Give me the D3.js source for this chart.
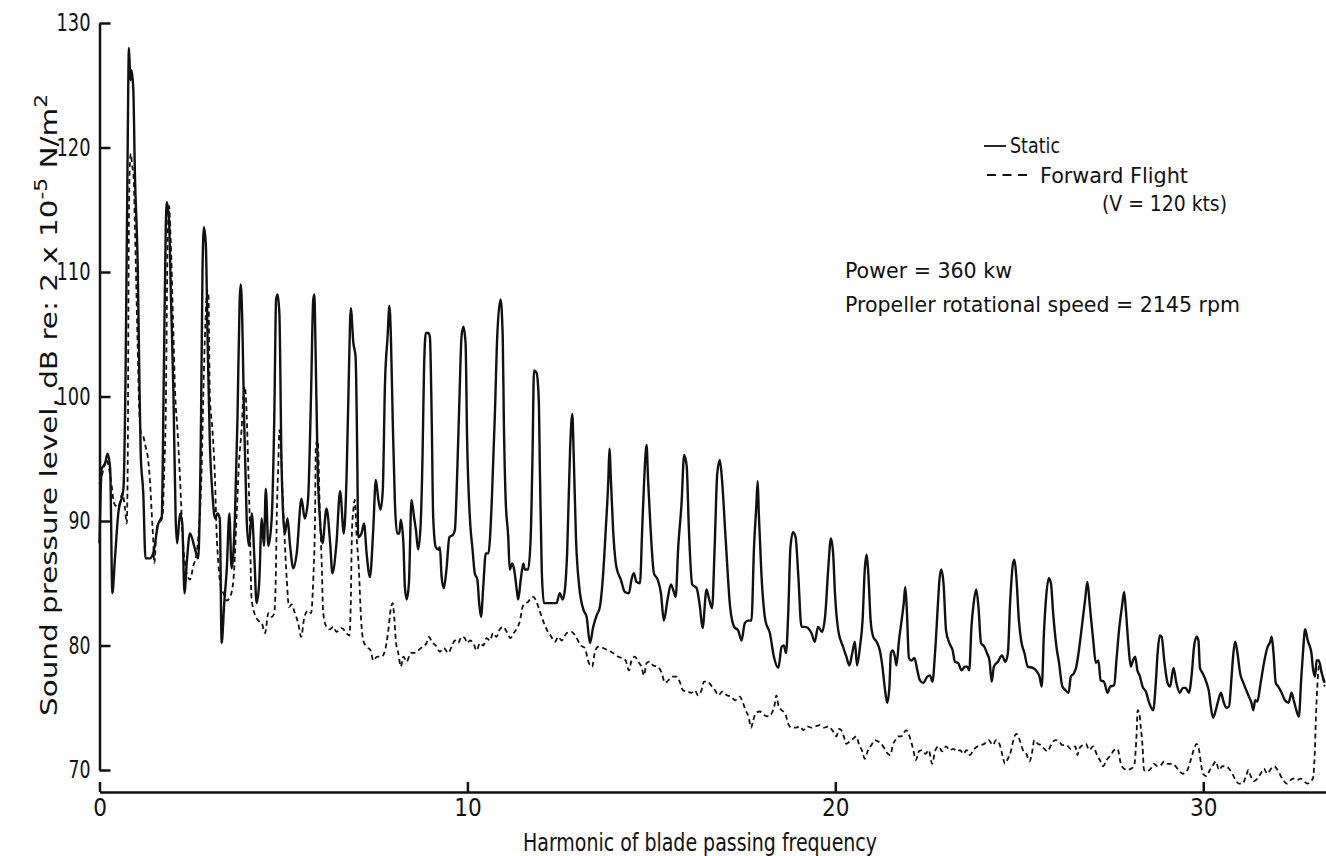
<!DOCTYPE html>
<html>
<head>
<meta charset="utf-8">
<script src="https://cdn.jsdelivr.net/npm/d3@7"></script>
<style>
  body { margin: 0; background: #fff; }
  svg text { font-family: "DejaVu Sans Condensed", "Liberation Sans Narrow", "DejaVu Sans", sans-serif; font-stretch: condensed; fill: #111; }
  .axis path, .axis line { stroke: #111; stroke-width: 2.5; }
</style>
</head>
<body>
<div id="chart"></div>
<script>
// harmonic number, SPL (dB)
var staticPts = [
  [0,88.2],[0.06,94.2],[0.15,94.6],[0.22,95.4],[0.29,94.2],[0.35,84.2],[0.42,87],[0.51,90.6],[0.65,92.6],[0.71,102.2],[0.76,118.2],[0.80,128],[0.84,125.4],[0.87,126.2],[0.92,124.6],[0.96,118.2],[1.04,110.2],[1.08,102.2],[1.12,95.4],[1.19,92.2],[1.25,87],[1.37,87],[1.46,87.4],[1.60,89.8],[1.69,90.2],[1.75,102.2],[1.80,113.4],[1.83,115.6],[1.89,114.2],[1.94,108.2],[2.01,100.2],[2.07,90.2],[2.11,88.2],[2.19,90.6],[2.25,89.8],[2.31,84.2],[2.37,86.6],[2.46,89],[2.59,87.8],[2.68,87],[2.76,98.2],[2.80,110.2],[2.84,113.6],[2.89,112.2],[2.94,104.2],[3.00,96.2],[3.07,92.2],[3.14,90.2],[3.21,90.6],[3.27,90.2],[3.32,80.2],[3.39,83.4],[3.46,86.2],[3.53,90.6],[3.59,86.2],[3.68,90.2],[3.75,98.2],[3.81,107.8],[3.84,109],[3.88,106.2],[3.93,98.2],[4.00,90.2],[4.06,88],[4.14,90.6],[4.21,87],[4.27,83.4],[4.34,85],[4.41,90.2],[4.47,88],[4.52,92.6],[4.59,88],[4.68,90.2],[4.75,98.2],[4.80,107.8],[4.84,108.2],[4.89,106.6],[4.95,94.2],[5.04,89],[5.11,90.2],[5.18,88],[5.27,86.2],[5.36,87.4],[5.49,91.8],[5.58,90.2],[5.67,91.8],[5.75,100.2],[5.81,107.8],[5.84,108.2],[5.87,104.2],[5.93,94.2],[5.99,90.2],[6.06,88.2],[6.17,91],[6.27,88.2],[6.33,85.8],[6.44,88.2],[6.54,92.4],[6.64,89],
  [6.72,94.1],[6.78,102.1],[6.83,107.1],[6.90,104.3],[6.96,103.2],[7.01,94.1],[7.03,88.7],[7.12,89.0],[7.19,89.8],[7.26,87.4],[7.35,85.5],[7.44,89.3],[7.51,93.3],[7.58,91.7],[7.64,90.9],[7.70,92.5],[7.76,101.1],[7.83,104.8],[7.88,107.3],[7.92,104.8],[7.97,98.1],[8.03,91.4],[8.09,89.0],[8.15,89.0],[8.19,90.1],[8.26,88.2],[8.30,84.7],[8.35,83.7],[8.41,85.0],[8.48,91.7],[8.55,90.3],[8.60,89.3],[8.66,87.7],[8.73,89.8],[8.78,95.2],[8.82,102.1],[8.87,105.1],[8.94,105.1],[8.98,104.8],[9.03,98.1],[9.07,90.3],[9.14,87.9],[9.21,87.7],[9.25,87.9],[9.30,85.5],[9.36,84.6],[9.43,86.1],[9.51,88.7],[9.61,88.9],[9.66,89.3],[9.72,93.6],[9.78,99.5],[9.84,104.8],[9.89,105.6],[9.95,104.3],[9.99,96.8],[10.07,90.1],[10.14,87.7],[10.20,85.8],[10.27,85.3],[10.32,83.4],[10.37,82.3],[10.43,84.7],[10.50,87.4],[10.57,87.4],[10.66,91.4],[10.75,98.9],[10.81,104.8],[10.90,107.8],[10.96,104.8],[10.99,98.1],[11.04,91.7],[11.11,88.7],[11.15,86.1],[11.22,86.6],[11.27,86.1],[11.34,84.5],[11.38,83.7],[11.45,85.3],[11.52,86.6],[11.56,86.1],[11.65,86.1],[11.72,88.7],[11.77,95.4],[11.81,102.1],[11.88,101.9],[11.94,99.7],[11.97,94.1],[12.02,86.1],[12.08,83.4],[12.20,83.4],[12.42,83.4],[12.51,84.2],[12.59,83.7],[12.65,84.5],[12.71,87.4],[12.79,95.7],[12.85,98.6],[12.89,95.2],[12.95,88.7],[13.04,84.7],[13.15,82.9],[13.24,82.3],
  [13.33,80.2],[13.42,81.5],[13.51,82.4],[13.60,83.1],[13.69,85.8],[13.76,89.3],[13.83,93.3],[13.86,95.8],[13.90,93.3],[13.96,89.3],[14.05,86.3],[14.17,85.3],[14.28,84.3],[14.39,84.2],[14.46,85.3],[14.52,85.8],[14.60,85.1],[14.69,85.0],[14.75,89.3],[14.80,93.0],[14.87,96.1],[14.91,93.3],[14.98,89.3],[15.07,85.8],[15.17,85.3],[15.26,84.2],[15.34,82.0],[15.44,83.7],[15.53,84.9],[15.59,84.5],[15.66,83.9],[15.73,87.9],[15.82,91.4],[15.89,95.3],[15.96,94.4],[16.02,89.3],[16.11,84.9],[16.23,84.6],[16.32,83.1],[16.39,81.4],[16.50,84.5],[16.57,83.7],[16.65,83.0],[16.72,87.9],[16.79,93.8],[16.86,94.9],[16.92,93.3],[17.02,88.5],[17.14,83.1],[17.25,81.5],[17.36,81.2],[17.45,80.4],[17.54,81.8],[17.63,82.0],[17.72,82.0],[17.79,87.9],[17.85,91.1],[17.89,93.2],[17.92,90.6],[17.99,85.8],[18.10,82.0],[18.22,81.0],[18.33,79.1],[18.45,78.2],[18.54,79.9],[18.60,80.0],[18.66,79.4],[18.72,82.6],[18.78,87.9],[18.85,89.1],[18.92,88.7],[18.99,85.8],[19.08,81.5],[19.18,81.5],[19.26,81.4],[19.35,81.0],[19.44,80.3],[19.53,81.5],[19.64,81.1],[19.73,82.6],[19.81,86.3],[19.88,88.6],[19.94,87.4],[19.99,84.2],
  [20.08,81.2],[20.21,79.9],[20.30,79.1],[20.38,78.4],[20.46,79.4],[20.53,80.3],[20.59,78.4],[20.67,79.9],[20.74,82.0],[20.80,86.1],[20.85,87.3],[20.89,86.1],[20.96,82.0],[21.03,80.7],[21.12,80.3],[21.21,79.6],[21.28,78.3],[21.34,76.7],[21.41,75.4],[21.47,76.7],[21.51,79.4],[21.56,79.6],[21.62,79.1],[21.66,78.4],[21.73,80.4],[21.80,82.0],[21.86,83.4],[21.90,84.7],[21.94,83.1],[22.00,79.0],[22.07,78.8],[22.15,79.0],[22.23,78.0],[22.30,77.2],[22.39,77.0],[22.50,77.5],[22.57,77.6],[22.64,77.1],[22.71,79.4],[22.79,83.4],[22.83,85.3],[22.88,86.1],[22.94,85.0],[23.01,81.2],[23.10,80.2],[23.19,79.6],[23.25,78.7],[23.34,78.6],[23.43,78.0],[23.52,78.3],[23.58,78.3],[23.64,78.0],[23.70,81.5],[23.76,83.4],[23.83,84.5],[23.89,83.1],[23.96,80.2],[24.05,79.9],[24.12,79.4],[24.19,78.8],[24.25,77.1],[24.31,78.3],[24.42,78.7],[24.53,79.2],[24.62,78.7],[24.69,79.4],[24.75,83.4],[24.83,86.6],[24.87,86.9],[24.92,85.5],[24.99,82.0],[25.05,80.4],[25.14,79.4],[25.23,78.3],[25.37,78.2],[25.48,77.9],[25.55,77.5],[25.61,76.7],[25.67,81.0],[25.73,83.9],[25.80,85.4],[25.86,85.0],[25.92,82.6],[26.01,79.9],[26.08,78.6],[26.17,76.7],[26.26,76.4],[26.34,76.2],[26.40,77.5],[26.49,77.8],[26.55,78.3],[26.62,79.6],
  [26.70,81.5],[26.79,83.7],[26.85,85.1],[26.92,83.1],[27.01,80.4],[27.08,78.6],[27.15,78.8],[27.21,77.2],[27.30,77.1],[27.40,76.2],[27.47,76.7],[27.58,76.8],[27.64,78.8],[27.71,81.2],[27.79,83.1],[27.85,84.3],[27.89,83.1],[27.97,79.9],[28.03,78.3],[28.09,78.8],[28.15,79.1],[28.21,78.0],[28.27,77.6],[28.35,76.7],[28.44,76.3],[28.53,75.4],[28.64,74.8],[28.71,77.0],[28.76,79.4],[28.82,80.8],[28.87,80.7],[28.94,78.8],[29.03,77.0],[29.10,76.7],[29.19,78.2],[29.27,77.0],[29.36,76.2],[29.45,76.6],[29.52,76.6],[29.61,76.2],[29.69,77.8],[29.75,79.9],[29.82,80.7],[29.87,80.4],[29.91,78.2],[29.98,77.8],[30.09,77.0],[30.16,76.2],[30.20,75.2],[30.27,74.2],[30.34,74.8],[30.41,75.6],[30.48,76.2],[30.55,75.5],[30.63,75.0],[30.70,75.1],[30.77,77.5],[30.82,79.4],[30.87,80.3],[30.93,79.4],[31.00,77.8],[31.09,77.0],[31.17,76.4],[31.24,75.9],[31.31,75.4],[31.36,74.8],[31.41,75.6],[31.47,75.5],[31.56,77.0],[31.65,78.6],[31.74,79.8],[31.82,80.3],[31.86,80.7],[31.91,79.4],[31.97,77.0],[32.04,76.7],[32.13,76.2],[32.22,75.6],[32.32,75.4],[32.40,76.2],[32.46,75.6],[32.53,74.8],[32.60,74.3],[32.66,77.2],[32.71,79.4],[32.77,81.3],[32.84,80.4],[32.94,79.4],[32.98,78.2],[33.04,77.5],[33.08,78.8],[33.14,78.8],[33.22,77.8],[33.30,77.0]
];

var flightPts = [
  [0,93],[0.06,93.6],[0.19,94.9],[0.31,93.3],[0.40,91.4],[0.51,91.1],[0.62,92.2],[0.69,91.1],[0.74,89.8],[0.77,96],[0.79,110],[0.82,118.2],[0.85,119.5],[0.89,118.5],[0.93,117.5],[0.96,114],[1.03,105],[1.08,99],[1.13,97],[1.19,96.8],[1.25,96.0],[1.31,95.2],[1.37,93.3],[1.42,90.6],[1.46,88.5],[1.49,86.6],[1.55,89.3],[1.64,90.1],[1.72,90.6],[1.75,93.3],[1.80,98.6],[1.85,112],[1.89,115.3],[1.93,113],[2.0,106],[2.06,100],[2.12,97.3],[2.19,93.3],[2.25,89.3],[2.37,85.8],[2.46,85.3],[2.55,86.4],[2.64,87.4],[2.70,89.3],[2.78,94.6],[2.82,100],[2.88,106],[2.93,108.5],[2.96,108.2],[3.00,100],[3.07,97.3],[3.14,93.3],[3.18,89.3],[3.23,86.6],[3.30,84.7],[3.37,84.2],[3.46,83.6],[3.55,83.9],[3.64,85.3],[3.73,90.6],[3.79,94.6],[3.86,97.3],[3.91,100],[3.95,100.8],[4.00,98.6],[4.04,94.6],[4.09,89.3],[4.13,83.9],[4.21,82.6],[4.32,82.0],[4.41,81.8],[4.50,81.0],[4.59,82.6],[4.68,82.3],[4.75,82.6],[4.79,85.3],[4.82,90.6],[4.86,94.6],[4.89,97.3],[4.93,96],[4.98,92],[5.02,89.3],[5.09,85.3],[5.15,83.1],[5.22,83.3],[5.31,82.6],[5.40,81.8],[5.48,80.7],[5.57,82.3],[5.67,82.8],[5.75,82.6],[5.81,85.3],[5.86,90.6],[5.88,96.0],[5.93,96.5],[5.99,90.6],[6.04,86.6],[6.08,82.6],[6.17,81.5],[6.26,81.3],[6.35,81.5],[6.44,81.1],[6.58,81.4],
  [6.79,80.8],[6.83,83.4],[6.86,89.0],[6.90,90.9],[6.94,91.7],[6.99,88.7],[7.05,86.1],[7.11,82.1],[7.17,80.4],[7.26,79.9],[7.37,79.6],[7.44,78.8],[7.55,79.1],[7.67,79.1],[7.76,79.6],[7.85,81.2],[7.91,82.8],[7.97,83.4],[8.01,82.3],[8.06,80.2],[8.12,79.4],[8.19,78.3],[8.26,79.1],[8.35,78.7],[8.46,79.4],[8.55,79.4],[8.66,79.6],[8.78,79.9],[8.89,80.2],[8.96,80.7],[9.03,80.3],[9.14,80.0],[9.25,79.5],[9.36,79.8],[9.48,79.4],[9.57,79.9],[9.66,80.4],[9.75,80.2],[9.84,80.7],[9.93,80.6],[9.99,80.2],[10.07,80.4],[10.16,80.2],[10.25,79.6],[10.34,80.2],[10.43,80.0],[10.52,80.6],[10.61,80.4],[10.70,81.0],[10.79,80.7],[10.88,81.3],[10.97,81.5],[11.07,81.1],[11.17,80.6],[11.26,81.0],[11.35,81.4],[11.43,82.0],[11.50,83.1],[11.58,83.4],[11.65,83.5],[11.72,83.8],[11.79,83.9],[11.88,83.5],[11.95,82.9],[12.02,82.3],[12.08,81.8],[12.17,81.2],[12.26,80.8],[12.38,80.3],[12.47,80.7],[12.56,80.4],[12.70,81.0],[12.83,81.1],[12.95,80.7],[13.08,80.0],[13.19,79.8],
  [13.30,78.6],[13.39,78.3],[13.46,79.4],[13.55,79.9],[13.69,79.8],[13.83,79.6],[13.96,79.4],[14.10,79.1],[14.19,79.0],[14.30,78.8],[14.39,78.0],[14.46,78.8],[14.55,79.1],[14.64,78.7],[14.73,78.3],[14.80,77.6],[14.87,78.6],[14.96,78.7],[15.05,78.4],[15.17,78.3],[15.28,77.8],[15.37,77.0],[15.46,77.2],[15.57,77.5],[15.68,77.5],[15.77,77.1],[15.86,76.4],[15.98,76.3],[16.09,76.2],[16.18,76.4],[16.27,76.0],[16.36,76.4],[16.43,77.1],[16.53,77.1],[16.62,76.8],[16.73,76.4],[16.82,76.0],[16.93,76.3],[17.05,76.0],[17.17,75.9],[17.28,75.6],[17.40,75.9],[17.49,75.4],[17.56,74.8],[17.64,74.3],[17.71,73.4],[17.76,73.9],[17.84,74.6],[17.95,74.7],[18.07,74.4],[18.19,74.3],[18.28,74.6],[18.34,75.1],[18.40,76.0],[18.45,75.2],[18.54,74.8],[18.63,74.6],[18.72,73.7],[18.81,73.4],[18.92,73.4],[19.04,73.5],[19.13,73.2],[19.24,73.5],[19.35,73.4],[19.46,73.5],[19.58,73.6],[19.70,73.4],[19.81,73.5],
  [19.94,73.1],[20.03,72.7],[20.10,73.3],[20.16,73.2],[20.23,72.7],[20.30,72.1],[20.39,72.3],[20.48,72.5],[20.57,72.7],[20.65,72.0],[20.72,71.6],[20.80,70.9],[20.89,71.6],[20.98,72.0],[21.07,72.4],[21.16,72.3],[21.25,72.1],[21.34,71.7],[21.43,71.3],[21.50,71.2],[21.56,72.0],[21.63,72.4],[21.70,72.7],[21.79,72.7],[21.85,72.9],[21.92,73.2],[21.99,72.9],[22.06,72.3],[22.12,71.6],[22.19,70.8],[22.27,71.5],[22.36,71.6],[22.45,71.3],[22.54,71.6],[22.63,70.5],[22.72,71.6],[22.81,71.9],[22.90,71.5],[23.01,71.9],[23.10,71.6],[23.21,71.7],[23.30,71.5],[23.39,71.6],[23.48,71.3],[23.57,71.6],[23.66,71.2],[23.75,71.6],[23.87,71.9],[23.96,72.0],[24.05,72.1],[24.17,72.4],[24.28,72.0],[24.37,72.4],[24.46,72.1],[24.55,71.1],[24.61,70.5],[24.69,70.9],[24.78,71.6],[24.84,72.4],[24.92,72.9],[25.01,72.4],[25.10,71.6],[25.19,71.3],[25.28,70.7],[25.34,71.3],[25.41,72.4],[25.50,72.1],[25.59,72.0],[25.68,71.7],[25.77,71.5],[25.86,72.0],[25.98,72.4],[26.08,72.3],[26.17,72.0],[26.28,72.0],[26.40,71.7],[26.52,71.9],[26.58,71.2],
  [26.63,71.7],[26.72,72.0],[26.81,72.1],[26.90,71.6],[27.01,71.9],[27.10,71.3],[27.19,70.8],[27.28,70.3],[27.37,70.8],[27.46,71.1],[27.58,71.6],[27.67,71.7],[27.76,70.5],[27.85,70.1],[27.94,70.0],[28.03,70.1],[28.12,70.3],[28.18,72.4],[28.22,74.8],[28.26,74.6],[28.30,73.5],[28.35,71.9],[28.39,70.0],[28.48,69.9],[28.57,70.1],[28.66,70.5],[28.76,70.3],[28.85,70.4],[28.94,70.7],[29.03,70.5],[29.16,70.5],[29.25,70.3],[29.35,69.9],[29.45,69.7],[29.57,70.0],[29.66,70.8],[29.75,71.7],[29.82,72.1],[29.88,71.7],[29.94,70.5],[29.99,69.7],[30.09,69.5],[30.18,70.0],[30.27,70.4],[30.34,70.7],[30.43,70.0],[30.52,70.3],[30.61,70.3],[30.70,70.1],[30.79,69.7],[30.88,69.2],[30.97,68.9],[31.07,68.9],[31.16,69.5],[31.23,70.0],[31.29,69.5],[31.38,69.1],[31.47,69.3],[31.56,69.7],[31.65,70.1],[31.74,69.7],[31.84,70.1],[31.93,70.3],[32.02,70.0],[32.11,69.5],[32.20,69.1],[32.27,68.9],[32.38,69.2],[32.46,69.3],[32.56,69.2],[32.65,69.3],[32.74,69.1],[32.83,68.9],[32.92,69.1],[32.98,69.3],[33.03,71.3],[33.06,74.0],[33.10,76.7],[33.15,78.4],[33.22,77.8],[33.30,76.7]
];

var yTicks = [70, 80, 90, 100, 110, 120, 130];
var xTicks = [0, 10, 20, 30];

var W = 1326, H = 856;

var svg = d3.select("#chart").append("svg")
    .attr("width", W)
    .attr("height", H);

// scales
var x = d3.scaleLinear().domain([0, 33.35]).range([99.5, 1326.5]);
var y = d3.scaleLinear().domain([70, 130]).range([770, 23]);

// y axis, ticks pointing in
svg.append("g")
    .attr("class", "axis")
    .attr("transform", "translate(99.5,0)")
    .call(d3.axisLeft(y).tickValues(yTicks).tickSizeInner(-11).tickSizeOuter(0).tickPadding(9).tickFormat(d3.format("d")))
    .call(function(g) {
        g.selectAll("text")
            .attr("font-family", null)
            .attr("textLength", function(d) { return d >= 100 ? 34 : 22; })
            .attr("lengthAdjust", "spacingAndGlyphs")
            .style("font-size", "24px");
    });

// x axis sits a bit below the y axis end
svg.append("g")
    .attr("class", "axis")
    .attr("transform", "translate(0,792)")
    .call(d3.axisBottom(x).tickValues(xTicks).tickSizeInner(-10).tickSizeOuter(0).tickPadding(7).tickFormat(d3.format("d")))
    .call(function(g) {
        g.selectAll("text")
            .attr("font-family", null)
            .style("font-size", "24px");
    });

var line = d3.line()
    .x(function(d) { return x(d[0]); })
    .y(function(d) { return y(d[1]); })
    .curve(d3.curveMonotoneX);

svg.append("path")
    .attr("d", line(flightPts))
    .style("fill", "none")
    .style("stroke", "#111")
    .style("stroke-width", 1.8)
    .style("stroke-dasharray", "5,3.5");

svg.append("path")
    .attr("d", line(staticPts))
    .style("fill", "none")
    .style("stroke", "#111")
    .style("stroke-width", 2.4)
    .style("stroke-linejoin", "round");

// axis titles
svg.append("text")
    .attr("x", 700)
    .attr("y", 851)
    .attr("text-anchor", "middle")
    .attr("textLength", 354)
    .attr("lengthAdjust", "spacingAndGlyphs")
    .style("font-size", "24px")
    .text("Harmonic of blade passing frequency");

var ylab = svg.append("text")
    .attr("transform", "translate(57,405) rotate(-90)")
    .attr("text-anchor", "middle")
    .attr("textLength", 622)
    .attr("lengthAdjust", "spacingAndGlyphs")
    .style("font-size", "23px");
ylab.append("tspan").text("Sound pressure level, dB  re:  2 x 10");
ylab.append("tspan").attr("dy", -10).style("font-size", "17px").text("-5");
ylab.append("tspan").attr("dy", 10).text(" N/m");
ylab.append("tspan").attr("dy", -10).style("font-size", "17px").text("2");

// legend
svg.append("line")
    .attr("x1", 984).attr("x2", 1006).attr("y1", 146).attr("y2", 146)
    .style("stroke", "#111").style("stroke-width", 1.8);
svg.append("text")
    .attr("x", 1010).attr("y", 153)
    .attr("textLength", 50).attr("lengthAdjust", "spacingAndGlyphs")
    .style("font-size", "22px")
    .text("Static");

svg.append("line")
    .attr("x1", 987).attr("x2", 1031).attr("y1", 175).attr("y2", 175)
    .style("stroke", "#111").style("stroke-width", 1.8)
    .style("stroke-dasharray", "9,6.5");
svg.append("text")
    .attr("x", 1040).attr("y", 183)
    .attr("textLength", 148).attr("lengthAdjust", "spacingAndGlyphs")
    .style("font-size", "22px")
    .text("Forward Flight");
svg.append("text")
    .attr("x", 1102).attr("y", 211)
    .attr("textLength", 125).attr("lengthAdjust", "spacingAndGlyphs")
    .style("font-size", "22px")
    .text("(V = 120 kts)");

// test conditions
svg.append("text")
    .attr("x", 845).attr("y", 278)
    .attr("textLength", 167).attr("lengthAdjust", "spacingAndGlyphs")
    .style("font-size", "22px")
    .text("Power = 360 kw");
svg.append("text")
    .attr("x", 845).attr("y", 312)
    .attr("textLength", 395).attr("lengthAdjust", "spacingAndGlyphs")
    .style("font-size", "22px")
    .text("Propeller rotational speed = 2145 rpm");
</script>
</body>
</html>
